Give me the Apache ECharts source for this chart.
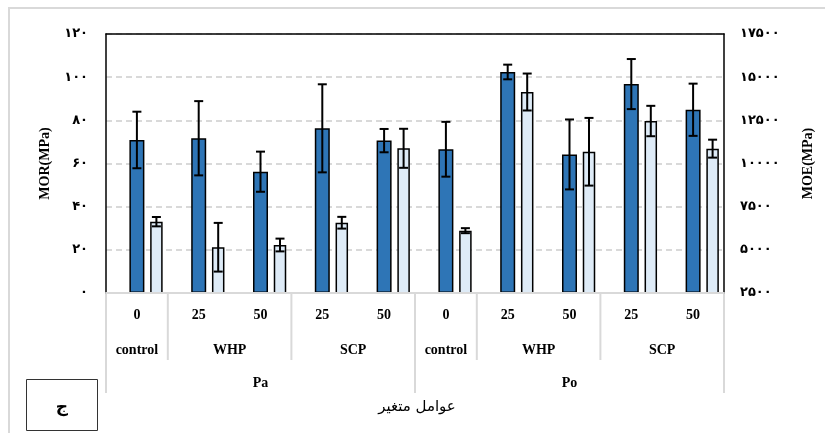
<!DOCTYPE html>
<html><head><meta charset="utf-8">
<script src="https://cdn.jsdelivr.net/npm/echarts@6/dist/echarts.min.js"></script>
<style>html,body{margin:0;padding:0;background:#fff}#c{width:825px;height:433px}</style>
</head><body><div id="c"></div>
<script>
// ---- data ----
const levels = ['0', '25', '50', '25', '50', '0', '25', '50', '25', '50'];
const treatments = ['control', 'WHP', 'SCP', 'control', 'WHP', 'SCP'];
const treatmentSpans = [1, 2, 2, 1, 2, 2];
const factors = ['Pa', 'Po'];
const factorSpans = [5, 5];
const morValues = [70.9, 71.7, 56.2, 76.3, 70.6, 66.6, 102.4, 64.2, 96.8, 84.9];
const morErrors = [13.1, 17.2, 9.3, 20.4, 5.4, 12.7, 3.4, 16.2, 11.6, 12.1];
const moeValues = [6630, 5150, 5280, 6570, 10880, 6110, 14140, 10680, 12460, 10860];
const moeErrors = [270, 1410, 370, 340, 1130, 145, 1070, 1960, 880, 520];
const leftTicks = [0, 20, 40, 60, 80, 100, 120];
const rightTicks = [2500, 5000, 7500, 10000, 12500, 15000, 17500];
const xTitle = 'عوامل متغیر';
const panelLabel = 'ج';

// ---- style ----
const MOE_OFFSET = 19.5;
const fa = n => String(n).replace(/\d/g, d => '۰۱۲۳۴۵۶۷۸۹'[d]);
const serif = 'Liberation Serif, Times New Roman, serif';
const gray = '#D9D9D9';

const chart = echarts.init(document.getElementById('c'), null, {renderer: 'canvas'});

function errRender(offset, capHalf, lw) {
  return function (params, api) {
    const lo = api.coord([api.value(0), api.value(1)]);
    const hi = api.coord([api.value(0), api.value(2)]);
    const x = lo[0] + offset;
    const st = {stroke: '#000', lineWidth: lw};
    return {type: 'group', children: [
      {type: 'line', shape: {x1: x, y1: lo[1], x2: x, y2: hi[1]}, style: st},
      {type: 'line', shape: {x1: x - capHalf, y1: lo[1], x2: x + capHalf, y2: lo[1]}, style: st},
      {type: 'line', shape: {x1: x - capHalf, y1: hi[1], x2: x + capHalf, y2: hi[1]}, style: st}
    ]};
  };
}

const option = {
  animation: false,
  backgroundColor: '#fff',
  grid: {left: 106, right: 101, top: 34, bottom: 140, containLabel: false},
  xAxis: [
    {type: 'category', data: levels, position: 'bottom',
     axisLine: {show: true, lineStyle: {color: gray, width: 2}},
     axisTick: {show: false},
     axisLabel: {interval: 0, margin: 15, color: '#000', fontFamily: serif, fontWeight: 'bold', fontSize: 14},
     splitLine: {show: false}, z: 3},
    {type: 'category', data: levels, position: 'top',
     axisLine: {show: true, lineStyle: {color: '#000', width: 1.5}},
     axisTick: {show: false}, axisLabel: {show: false}, splitLine: {show: false}}
  ],
  yAxis: [
    {type: 'value', min: leftTicks[0], max: leftTicks[leftTicks.length - 1], interval: 20, position: 'left',
     name: 'MOR(MPa)', nameLocation: 'middle', nameGap: 54, nameRotate: 90,
     nameTextStyle: {fontFamily: serif, fontWeight: 'bold', fontSize: 14, color: '#000'},
     axisLine: {show: true, lineStyle: {color: '#000', width: 1.5}},
     axisTick: {show: false},
     axisLabel: {margin: 18, formatter: v => fa(v), color: '#000', fontFamily: 'DejaVu Sans', fontWeight: 'bold', fontSize: 13},
     splitLine: {show: true, lineStyle: {color: gray, width: 2, type: [6, 4]}}},
    {type: 'value', min: rightTicks[0], max: rightTicks[rightTicks.length - 1], interval: 2500, position: 'right',
     name: 'MOE(MPa)', nameLocation: 'middle', nameGap: 77, nameRotate: 90,
     nameTextStyle: {fontFamily: serif, fontWeight: 'bold', fontSize: 14, color: '#000'},
     axisLine: {show: true, lineStyle: {color: '#000', width: 1.5}},
     axisTick: {show: false},
     axisLabel: {margin: 16, formatter: v => fa(v), color: '#000', fontFamily: 'DejaVu Sans', fontWeight: 'bold', fontSize: 13},
     splitLine: {show: false}}
  ],
  series: [
    {name: 'MOR', type: 'bar', xAxisIndex: 0, yAxisIndex: 0, data: morValues, barWidth: 15,
     itemStyle: {color: '#2E75B6', borderColor: '#000', borderWidth: 1.5}, z: 2},
    {name: 'spacer', type: 'bar', xAxisIndex: 1, yAxisIndex: 1, data: moeValues.map(() => null),
     barWidth: MOE_OFFSET * 2, barGap: 0, itemStyle: {color: 'transparent'}},
    {name: 'MOE', type: 'bar', xAxisIndex: 1, yAxisIndex: 1, data: moeValues, barWidth: 12.5, barGap: 0,
     itemStyle: {color: '#DEEBF7', borderColor: '#000', borderWidth: 1.5}, z: 2},
    {name: 'MOR err', type: 'custom', xAxisIndex: 0, yAxisIndex: 0, z: 5,
     data: morValues.map((v, i) => [i, v - morErrors[i], v + morErrors[i]]),
     renderItem: errRender(0, 4.5, 2)},
    {name: 'MOE err', type: 'custom', xAxisIndex: 1, yAxisIndex: 1, z: 5,
     data: moeValues.map((v, i) => [i, v - moeErrors[i], v + moeErrors[i]]),
     renderItem: errRender(MOE_OFFSET, 4.5, 2)}
  ]
};
chart.setOption(option);

// ---- multi-level category labels & decorations placed via the axis scale ----
const px = i => chart.convertToPixel({xAxisIndex: 0}, i);
const band = px(1) - px(0);
const edge = k => px(0) - band / 2 + k * band;
const axisY = chart.convertToPixel({yAxisIndex: 0}, 0);
const g = [];
const txt = (x, y, s, font) => g.push({type: 'text', x: x, y: y, silent: true,
  style: {text: s, fill: '#000', font: font, textAlign: 'center', textVerticalAlign: 'middle'}});

let k = 0;
treatments.forEach((t, j) => {
  const a = k, b = k + treatmentSpans[j] - 1;
  txt((px(a) + px(b)) / 2, axisY + 57, t, 'bold 14px ' + serif);
  k += treatmentSpans[j];
  if (k < levels.length && factorSpans.indexOf(k) === -1) {
    g.push({type: 'line', shape: {x1: edge(k), y1: axisY, x2: edge(k), y2: axisY + 67}, style: {stroke: gray, lineWidth: 2}});
  }
});
let f = 0;
const longEdges = [0];
factors.forEach((name, j) => {
  const a = f, b = f + factorSpans[j] - 1;
  txt((px(a) + px(b)) / 2, axisY + 90, name, 'bold 14px ' + serif);
  f += factorSpans[j];
  longEdges.push(f);
});
longEdges.forEach(e => g.push({type: 'line', shape: {x1: edge(e), y1: axisY, x2: edge(e), y2: axisY + 100}, style: {stroke: gray, lineWidth: 2}}));
txt((edge(0) + edge(levels.length)) / 2 + 2, axisY + 114, xTitle, '15px DejaVu Sans');
// outer frame
g.push({type: 'rect', shape: {x: 9, y: 8, width: 830, height: 440}, style: {fill: null, stroke: gray, lineWidth: 2}, z: -1});
// panel label box
g.push({type: 'rect', shape: {x: 26.5, y: 379.5, width: 71, height: 51}, style: {fill: '#fff', stroke: '#333', lineWidth: 1}});
txt(62, 408, panelLabel, 'bold 17px DejaVu Sans');

chart.setOption({graphic: g});
</script>
</body></html>
